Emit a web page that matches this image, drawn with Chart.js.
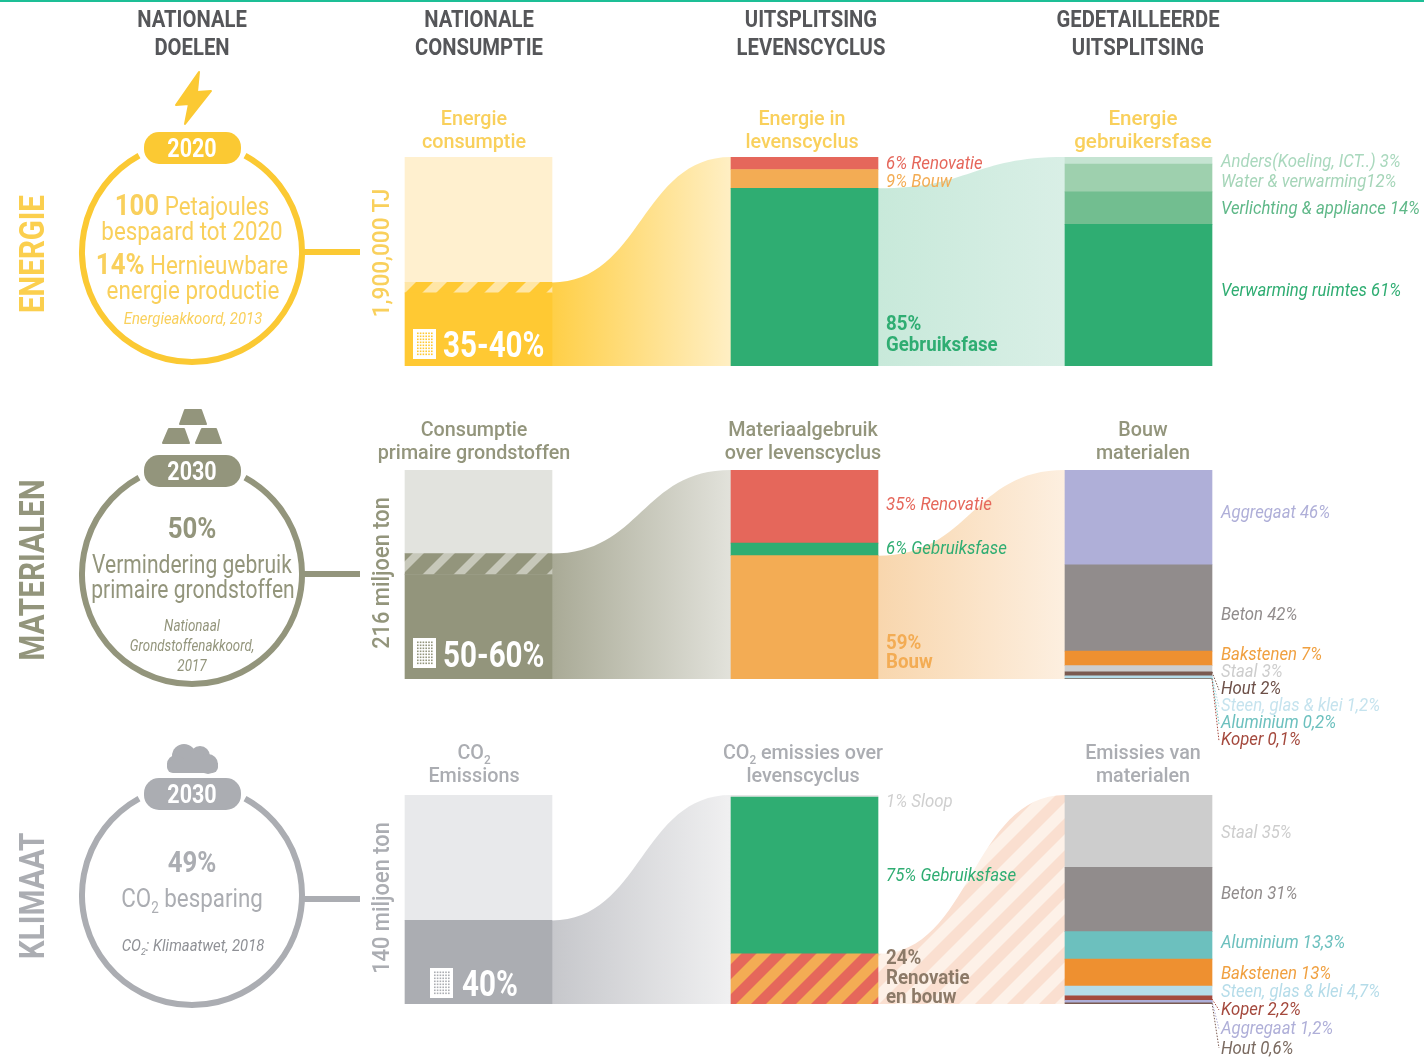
<!DOCTYPE html>
<html lang="nl">
<head>
<meta charset="utf-8">
<title>Nationale doelen en consumptie</title>
<script src="https://cdn.jsdelivr.net/npm/chart.js@4"></script>
<style>
  html, body { margin: 0; padding: 0; background: #fff; }
  #page { position: relative; width: 1424px; height: 1059px; overflow: hidden; font-family: Roboto, sans-serif; }
  #topline { position: absolute; left: 0; top: 0; width: 1424px; height: 2px; background: #1dbf96; }
  #page canvas { position: absolute; left: 0; }
  #shapes { position: absolute; left: 0; top: 0; }
  .t { position: absolute; white-space: nowrap; line-height: 1; }
  .t sub { font-size: 60%; line-height: 0; }
</style>
</head>
<body>
<div id="page">
  <div id="topline"></div>
  <canvas id="rowEnergie" width="1424" height="209" style="top:157px"></canvas>
  <canvas id="rowMaterialen" width="1424" height="209" style="top:470px"></canvas>
  <canvas id="rowKlimaat" width="1424" height="209" style="top:795px"></canvas>
  <svg id="shapes" width="1424" height="1059"></svg>
</div>
<script>
// Values are stacked bottom to top
const energieConsumptie = [35, 5, 60];
const energieLevens = [85, 9, 6];
const energieDetail = [61, 14, 12, 3];

const materialenConsumptie = [50, 10, 40];
const materialenLevens = [59, 6, 35];
const materialenDetail = [0.1, 0.2, 1.2, 2, 3, 7, 42, 46];

const klimaatConsumptie = [40, 60];
const klimaatLevens = [24, 75, 1];
const klimaatDetail = [0.6, 1.2, 2.2, 4.7, 13, 13.3, 31, 35];

const energieDetailNames = ['Verwarming ruimtes 61%', 'Verlichting & appliance 14%', 'Water & verwarming12%', 'Anders(Koeling, ICT..) 3%'];
const materialenDetailNames = ['Koper 0,1%', 'Aluminium 0,2%', 'Steen, glas & klei 1,2%', 'Hout 2%', 'Staal 3%', 'Bakstenen 7%', 'Beton 42%', 'Aggregaat 46%'];
const klimaatDetailNames = ['Hout 0,6%', 'Aggregaat 1,2%', 'Koper 2,2%', 'Steen, glas & klei 4,7%', 'Bakstenen 13%', 'Aluminium 13,3%', 'Beton 31%', 'Staal 35%'];

const columnHeaders = [['NATIONALE', 'DOELEN'], ['NATIONALE', 'CONSUMPTIE'], ['UITSPLITSING', 'LEVENSCYCLUS'], ['GEDETAILLEERDE', 'UITSPLITSING']];

// Layout
const COLUMN_X = [478.5, 804.5, 1138.5];
const BAR_WIDTH = 147;

const GREEN = '#2fad72', RED = '#e5675b', ORANGE = '#f3ac54';
const STAAL = '#cdcdcd', BETON = '#918c8c', BAKSTEEN = '#ee9030', HOUT = '#7a5a50';
const STEEN = '#b5dce9', ALU = '#6cc0be', KOPER = '#a4493d', AGGREGAAT = '#afafd8';

// 45 degree stripes, tile repeats seamlessly
function stripes(size, bg, fg, width) {
    const c = document.createElement('canvas');
    c.width = c.height = size;
    const g = c.getContext('2d');
    g.fillStyle = bg;
    g.fillRect(0, 0, size, size);
    g.fillStyle = fg;
    for (const o of [-size, 0, size]) {
        g.beginPath();
        g.moveTo(o, size);
        g.lineTo(o + size, 0);
        g.lineTo(o + size + width, 0);
        g.lineTo(o + width, size);
        g.closePath();
        g.fill();
    }
    return g.createPattern(c, 'repeat');
}

function share(values) {
    const sum = values.reduce((a, b) => a + b, 0);
    return values.map(v => v / sum * 100);
}

function sumFirst(values, n) {
    return values.slice(0, n).reduce((a, b) => a + b, 0);
}

// S-shaped flow between two columns, from the top of a stack to the top of the next column
const flowPlugin = {
    id: 'flows',
    beforeDatasetsDraw(chart, args, opts) {
        const { ctx, scales: { x, y } } = chart;
        for (const f of opts.flows) {
            const x0 = x.getPixelForValue(COLUMN_X[f.from]) + BAR_WIDTH / 2;
            const x1 = x.getPixelForValue(COLUMN_X[f.from + 1]) - BAR_WIDTH / 2;
            const mid = (x0 + x1) / 2;
            ctx.save();
            ctx.beginPath();
            ctx.moveTo(x0, y.getPixelForValue(0));
            ctx.lineTo(x0, y.getPixelForValue(f.start));
            ctx.bezierCurveTo(mid, y.getPixelForValue(f.start), mid, y.getPixelForValue(100), x1, y.getPixelForValue(100));
            ctx.lineTo(x1, y.getPixelForValue(0));
            ctx.closePath();
            if (f.colors) {
                const grad = ctx.createLinearGradient(x0, 0, x1, 0);
                grad.addColorStop(0, f.colors[0]);
                grad.addColorStop(1, f.colors[1]);
                ctx.fillStyle = grad;
            } else {
                ctx.fillStyle = f.pattern;
            }
            ctx.fill();
            ctx.restore();
        }
    }
};

function rowChart(id, columns, flows) {
    const datasets = [];
    columns.forEach((col, i) => {
        col.values.forEach((v, j) => {
            datasets.push({
                label: col.names ? col.names[j] : col.title,
                data: [{ x: COLUMN_X[i], y: v }],
                backgroundColor: col.colors[j],
                barThickness: BAR_WIDTH,
                borderWidth: 0
            });
        });
    });
    return new Chart(document.getElementById(id), {
        type: 'bar',
        data: { datasets },
        plugins: [flowPlugin],
        options: {
            responsive: false,
            animation: false,
            layout: { padding: 0 },
            scales: {
                x: { type: 'linear', min: 0, max: 1424, stacked: true, offset: false, display: false },
                y: { min: 0, max: 100, stacked: true, display: false }
            },
            plugins: {
                legend: { display: false },
                tooltip: { enabled: false },
                flows: { flows }
            }
        }
    });
}

rowChart('rowEnergie', [
    { title: 'Energie consumptie', values: energieConsumptie, colors: ['#ffc933', stripes(31, '#ffc933', '#ffe6a6', 14), '#fff0cf'] },
    { title: 'Energie in levenscyclus', values: energieLevens, colors: [GREEN, ORANGE, RED] },
    { title: 'Energie gebruikersfase', values: share(energieDetail), names: energieDetailNames, colors: [GREEN, '#72be90', '#9ed0ae', '#c5e4d2'] }
], [
    { from: 0, start: sumFirst(energieConsumptie, 2), colors: ['#ffcf47', '#ffefc4'] },
    { from: 1, start: energieLevens[0], colors: ['#c8e9da', '#d9efe6'] }
]);

rowChart('rowMaterialen', [
    { title: 'Consumptie primaire grondstoffen', values: materialenConsumptie, colors: ['#93957c', stripes(31, '#93957c', '#c7c8ba', 11), '#e2e3de'] },
    { title: 'Materiaalgebruik over levenscyclus', values: materialenLevens, colors: [ORANGE, GREEN, RED] },
    { title: 'Bouw materialen', values: share(materialenDetail), names: materialenDetailNames, colors: [KOPER, ALU, STEEN, HOUT, STAAL, BAKSTEEN, BETON, AGGREGAAT] }
], [
    { from: 0, start: sumFirst(materialenConsumptie, 2), colors: ['#a9aa96', '#e2e2db'] },
    { from: 1, start: materialenLevens[0], colors: ['#f8d6ad', '#fdefe0'] }
]);

rowChart('rowKlimaat', [
    { title: 'CO2 Emissions', values: klimaatConsumptie, colors: ['#abadb2', '#e8e9eb'] },
    { title: 'CO2 emissies over levenscyclus', values: klimaatLevens, colors: [stripes(30, ORANGE, RED, 15), GREEN, '#e6e6e6'] },
    { title: 'Emissies van materialen', values: share(klimaatDetail), names: klimaatDetailNames, colors: [HOUT, AGGREGAAT, KOPER, STEEN, BAKSTEEN, ALU, BETON, STAAL] }
], [
    { from: 0, start: klimaatConsumptie[0], colors: ['#c6c7cb', '#f0f0f1'] },
    { from: 1, start: klimaatLevens[0], pattern: stripes(32, '#fdf1e8', '#fadfd0', 16) }
]);

// Text
const page = document.getElementById('page');

function put(html, x, y, o = {}) {
    const el = document.createElement('div');
    el.className = 't';
    el.innerHTML = html;
    const sx = o.sx === undefined ? 0.86 : o.sx;
    el.style.left = x + 'px';
    el.style.top = y + 'px';
    el.style.fontSize = (o.size || 20) + 'px';
    el.style.color = o.color || '#555';
    el.style.fontWeight = o.bold ? 700 : (o.weight || 400);
    if (o.italic) el.style.fontStyle = 'italic';
    if (o.rot) {
        el.style.transform = `translate(-50%,-50%) rotate(-90deg) scaleX(${sx})`;
    } else if (o.left) {
        el.style.transformOrigin = 'left center';
        el.style.transform = `translateY(-50%) scaleX(${sx})`;
    } else {
        el.style.transform = `translate(-50%,-50%) scaleX(${sx})`;
    }
    page.appendChild(el);
}

const HEADER_X = [192, 479, 811, 1138];
columnHeaders.forEach((lines, i) => {
    put(lines[0], HEADER_X[i], 19, { size: 23, bold: true, color: '#555659', sx: 0.88 });
    put(lines[1], HEADER_X[i], 47, { size: 23, bold: true, color: '#555659', sx: 0.88 });
});

const YELLOW_T = '#f9d05c', OLIVE = '#93957c', GREY = '#abadb2';

// Row names and totals
put('ENERGIE', 32, 254, { size: 35, bold: true, color: '#fbcf4e', rot: true, sx: 0.84 });
put('MATERIALEN', 32, 570, { size: 35, bold: true, color: OLIVE, rot: true, sx: 0.85 });
put('KLIMAAT', 32, 896, { size: 35, bold: true, color: GREY, rot: true, sx: 0.85 });
put('1,900,000 TJ', 381, 253, { size: 23, weight: 500, color: YELLOW_T, rot: true, sx: 0.98 });
put('216 miljoen ton', 381, 573, { size: 23, weight: 500, color: OLIVE, rot: true, sx: 0.95 });
put('140 miljoen ton', 381, 898, { size: 23, weight: 500, color: GREY, rot: true, sx: 0.95 });

// Ring contents
const big = (s) => `<span style="font-weight:700;font-size:30px">${s}</span>`;
put(big('100') + ' Petajoules', 192, 205, { size: 26, color: YELLOW_T });
put('bespaard tot 2020', 192, 231, { size: 26, color: YELLOW_T });
put(big('14%') + ' Hernieuwbare', 192, 264, { size: 26, color: YELLOW_T });
put('energie productie', 193, 290, { size: 26, color: YELLOW_T });
put('Energieakkoord, 2013', 193, 319, { size: 16, color: YELLOW_T, italic: true, sx: 0.93 });

put('50%', 192, 528, { size: 30, bold: true, color: OLIVE });
put('Vermindering gebruik', 192, 564, { size: 26, color: OLIVE, sx: 0.81 });
put('primaire grondstoffen', 193, 589, { size: 26, color: OLIVE, sx: 0.81 });
put('Nationaal', 192, 626, { size: 16, color: OLIVE, italic: true, sx: 0.84 });
put('Grondstoffenakkoord,', 192, 646, { size: 16, color: OLIVE, italic: true, sx: 0.83 });
put('2017', 192, 666, { size: 16, color: OLIVE, italic: true, sx: 0.84 });

put('49%', 192, 862, { size: 30, bold: true, color: GREY });
put('CO<sub>2</sub> besparing', 192, 898, { size: 26, color: GREY });
put('CO<sub>2</sub>: Klimaatwet, 2018', 193, 946, { size: 16, color: '#8f9196', italic: true, sx: 0.93 });

put('2020', 192, 148, { size: 25, bold: true, color: '#fff' });
put('2030', 192, 471, { size: 25, bold: true, color: '#fff' });
put('2030', 192, 794, { size: 25, bold: true, color: '#fff' });

// Column captions
function caption(x, y, a, b, color, sx = 0.94) {
    put(a, x, y, { size: 21, weight: 500, color, sx });
    put(b, x, y + 23, { size: 21, weight: 500, color, sx });
}
caption(474, 118, 'Energie', 'consumptie', YELLOW_T);
caption(802, 118, 'Energie in', 'levenscyclus', YELLOW_T);
caption(1143, 118, 'Energie', 'gebruikersfase', YELLOW_T, 0.98);
caption(474, 429, 'Consumptie', 'primaire grondstoffen', OLIVE);
caption(803, 429, 'Materiaalgebruik', 'over levenscyclus', OLIVE);
caption(1143, 429, 'Bouw', 'materialen', OLIVE);
caption(474, 752, 'CO<sub>2</sub>', 'Emissions', GREY);
caption(803, 752, 'CO<sub>2</sub> emissies over', 'levenscyclus', GREY);
caption(1143, 752, 'Emissies van', 'materialen', GREY);

// Big numbers inside the consumption bars
put('35-40%', 443, 344, { size: 37, bold: true, color: '#fff', left: true, sx: 0.8 });
put('50-60%', 443, 654, { size: 37, bold: true, color: '#fff', left: true, sx: 0.8 });
put('40%', 462, 983, { size: 37, bold: true, color: '#fff', left: true, sx: 0.8 });

// Lifecycle labels
const LIFE_X = 886;
const lifeLabel = (s, y, color) => put(s, LIFE_X, y - 1, { size: 19, color, left: true, italic: true, sx: 0.885 });
const lifeBold = (s, y, color) => put(s, LIFE_X, y - 1, { size: 21, color, left: true, bold: true, sx: 0.89 });
lifeLabel('6% Renovatie', 163, RED);
lifeLabel('9% Bouw', 181, ORANGE);
lifeBold('85%', 324, GREEN);
lifeBold('Gebruiksfase', 345, GREEN);
lifeLabel('35% Renovatie', 504, RED);
lifeLabel('6% Gebruiksfase', 548, GREEN);
lifeBold('59%', 643, ORANGE);
lifeBold('Bouw', 662, ORANGE);
lifeLabel('1% Sloop', 801, '#cfcfcf');
lifeLabel('75% Gebruiksfase', 875, GREEN);
lifeBold('24%', 958, '#8c7a68');
lifeBold('Renovatie', 978, '#8c7a68');
lifeBold('en bouw', 997, '#8c7a68');

// Detail labels
const DETAIL_X = 1221;
function detailLabels(names, ys, colors) {
    names.forEach((s, i) => put(s, DETAIL_X, ys[i] - 1, { size: 19, color: colors[i], left: true, italic: true, sx: 0.88 }));
}
detailLabels(energieDetailNames, [290, 208, 181, 161], [GREEN, '#5fb888', '#a5d5b8', '#a9d8bd']);
detailLabels(materialenDetailNames, [739, 722, 705, 688, 671, 654, 614, 512],
    [KOPER, ALU, '#c5e3ee', '#6d5048', STAAL, '#f0a040', BETON, AGGREGAAT]);
detailLabels(klimaatDetailNames, [1048, 1028, 1009, 991, 973, 942, 893, 832],
    ['#7a6a60', AGGREGAAT, KOPER, STEEN, '#f0a040', ALU, BETON, STAAL]);

// Rings, connectors, icons and dotted leaders
const rings = [
    { cy: 252, pill: 148, conn: 252, color: '#fbc933' },
    { cy: 574, pill: 471, conn: 574, color: OLIVE },
    { cy: 895, pill: 794, conn: 899, color: GREY }
];
let svg = '';
for (const r of rings) {
    const R = 110;
    const dx = 53, dy = Math.sqrt(R * R - dx * dx);
    svg += `<path d="M${192 - dx} ${r.cy - dy} A${R} ${R} 0 1 0 ${192 + dx} ${r.cy - dy}" fill="none" stroke="${r.color}" stroke-width="6"/>`;
    svg += `<rect x="144" y="${r.pill - 16}" width="97" height="32" rx="15" fill="${r.color}"/>`;
    svg += `<rect x="304" y="${r.conn - 3}" width="56" height="6" fill="${r.color}"/>`;
}
// Bolt
svg += '<path d="M199 72 L176 105 L189 104 L185 124 L211 91 L197 92 Z" fill="#fbc933" stroke="#fbc933" stroke-width="2" stroke-linejoin="round"/>';
// Gold bars
svg += '<path d="M185 410 H201 L206 424 H180 Z M169 429 H184 L189 443 H163 Z M202 429 H216 L221 443 H196 Z" fill="#93957c" stroke="#93957c" stroke-width="2" stroke-linejoin="round"/>';
// Cloud
svg += '<g fill="#abadb2"><circle cx="184" cy="756" r="12"/><circle cx="200" cy="756" r="10"/><circle cx="176" cy="764" r="9"/><circle cx="208" cy="764" r="10"/><rect x="167" y="760" width="51" height="13" rx="6"/></g>';
// Buildings
function building(x, y, w, h, color) {
    let s = `<rect x="${x}" y="${y}" width="${w}" height="${h}" fill="#fff"/>`;
    for (let i = 0; i < 6; i++) for (let j = 0; j < 8; j++) {
        s += `<rect x="${x + 4 + i * 2.8}" y="${y + 3.5 + j * 3}" width="1.6" height="1.6" fill="${color}"/>`;
    }
    return s;
}
svg += building(413, 329, 23, 30, '#ffc933');
svg += building(413, 638, 23, 30, '#93957c');
svg += building(430, 968, 23, 30, '#abadb2');
// Dotted leaders from the smallest segments
const dotted = (x1, y1, x2, y2, c) => `<path d="M${x1} ${y1} L${x2} ${y2}" stroke="${c}" stroke-width="1" stroke-dasharray="1.5 1.5" fill="none"/>`;
svg += dotted(1212, 672, 1219, 690, HOUT);
svg += dotted(1212, 676, 1219, 707, STEEN);
svg += dotted(1212, 678, 1219, 724, ALU);
svg += dotted(1212, 679, 1219, 741, KOPER);
svg += dotted(1212, 999, 1219, 1010, KOPER);
svg += dotted(1212, 1001, 1219, 1029, AGGREGAAT);
svg += dotted(1212, 1003, 1219, 1048, HOUT);
document.getElementById('shapes').innerHTML = svg;
page.appendChild(document.getElementById('shapes'));
// Keep text above the shapes
page.querySelectorAll('.t').forEach(el => page.appendChild(el));
</script>
</body>
</html>
